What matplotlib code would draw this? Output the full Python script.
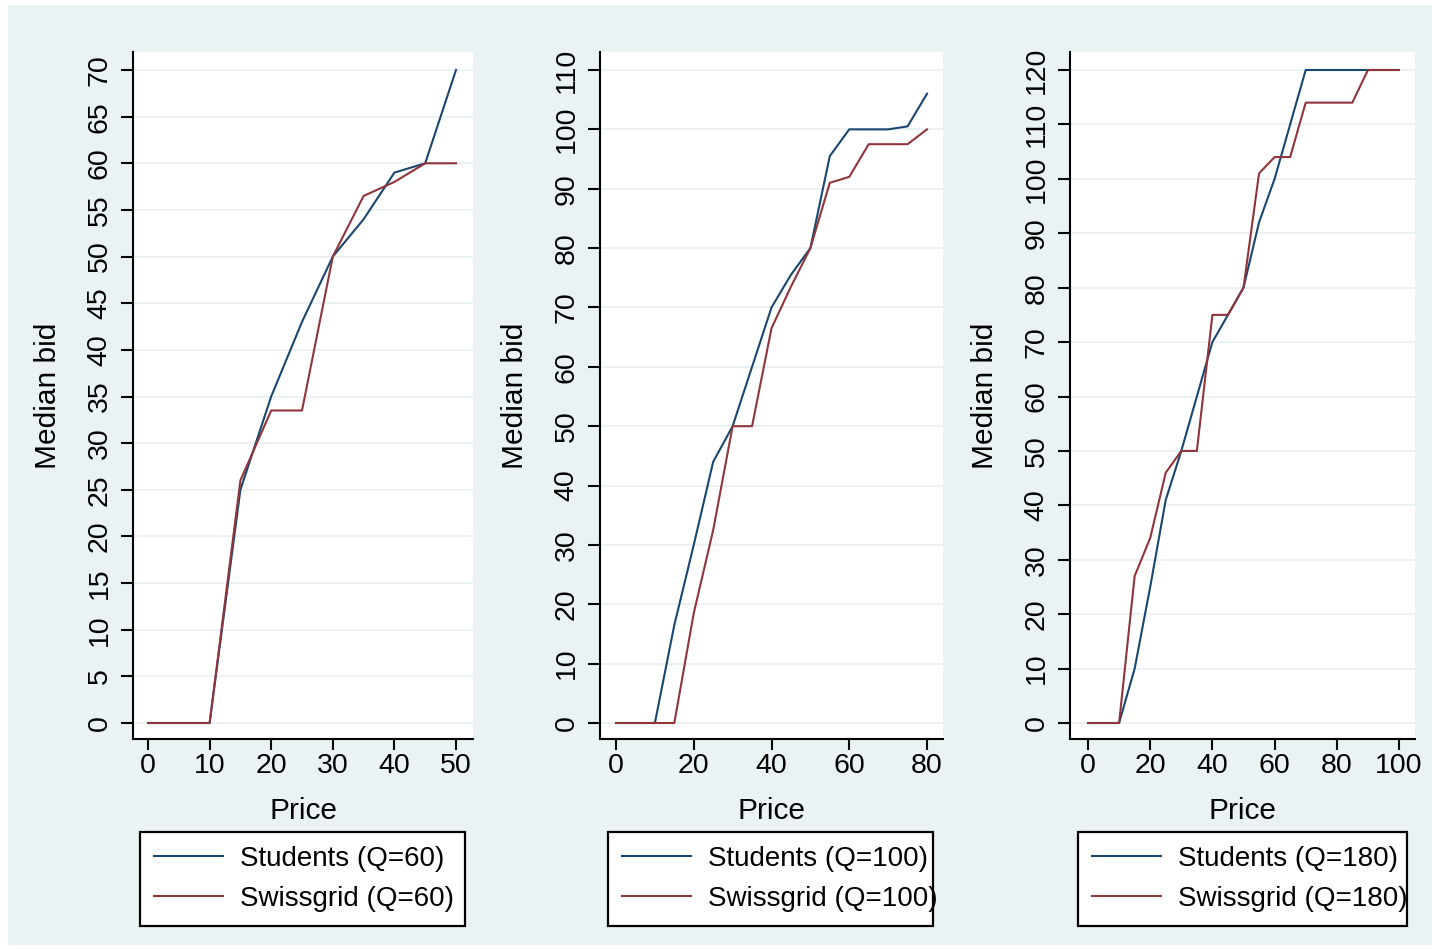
import matplotlib
matplotlib.use("Agg")
import matplotlib.pyplot as plt
from matplotlib.patches import Rectangle

plt.rcParams['font.family'] = ['Liberation Sans', 'DejaVu Sans']

# data
price60 = [0, 5, 10, 15, 20, 25, 30, 35, 40, 45, 50]
students60 = [0, 0, 0, 25, 35, 43, 50, 54, 59, 60, 70]
swiss60 = [0, 0, 0, 26, 33.5, 33.5, 50, 56.5, 58, 60, 60]

price100 = [0, 5, 10, 15, 20, 25, 30, 35, 40, 45, 50, 55, 60, 65, 70, 75, 80]
students100 = [0, 0, 0, 16.5, 30, 44, 50, 60, 70, 75.5, 80, 95.5, 100, 100, 100, 100.5, 106]
swiss100 = [0, 0, 0, 0, 18.5, 32.5, 50, 50, 66.5, 73.5, 80, 91, 92, 97.5, 97.5, 97.5, 100]

price180 = [0, 5, 10, 15, 20, 25, 30, 35, 40, 45, 50, 55, 60, 65, 70, 75, 80, 85, 90, 95, 100]
students180 = [0, 0, 0, 10, 25, 41, 50, 60, 70, 75, 80, 92, 100, 110, 120, 120, 120, 120, 120, 120, 120]
swiss180 = [0, 0, 0, 27, 34, 46, 50, 50, 75, 75, 80, 101, 104, 104, 114, 114, 114, 114, 120, 120, 120]

panels = [
    (price60, students60, swiss60, 'Q=60', range(0, 51, 10), range(0, 71, 5)),
    (price100, students100, swiss100, 'Q=100', range(0, 81, 20), range(0, 111, 10)),
    (price180, students180, swiss180, 'Q=180', range(0, 101, 20), range(0, 121, 10)),
]

W, H = 1432, 950
bg = '#eaf2f3'
navy = '#1a476f'
maroon = '#90353b'

fig = plt.figure(figsize=(W / 100, H / 100), dpi=100, facecolor='white')
fig.patches.append(Rectangle((8 / W, 5 / H), (W - 8) / W, (940) / H,
                             transform=fig.transFigure, facecolor=bg,
                             edgecolor='none', zorder=-10))

# axes boxes in pixels: left, right, x pixel of 0 and of xmax
boxes = [(133, 473, 148, 456), (600, 943, 616, 927), (1070, 1415, 1088, 1399)]
legend_box = [(140, 325), (608, 325), (1078, 329)]
top_px, bot_px, y0_px, ytop_px = 52, 739, 723, 70

for (px, stu, swi, q, xt, yt), (l, r, x0p, x1p), (ll, lw) in zip(panels, boxes, legend_box):
    ax = fig.add_axes([l / W, 1 - bot_px / H, (r - l) / W, (bot_px - top_px) / H])
    ax.set_facecolor('white')
    xmax = max(xt)
    ymax = max(yt)
    xs = xmax / (x1p - x0p)
    ys = ymax / (y0_px - ytop_px)
    ax.set_xlim(-(x0p - l) * xs, xmax + (r - x1p) * xs)
    ax.set_ylim(-(bot_px - y0_px) * ys, ymax + (ytop_px - top_px) * ys)

    ax.plot(px, stu, color=navy, lw=1.5, label='Students (%s)' % q)
    ax.plot(px, swi, color=maroon, lw=1.5, label='Swissgrid (%s)' % q)

    ax.set_xticks(list(xt))
    ax.set_yticks(list(yt))
    ax.grid(axis='y', color=bg, lw=1.5)
    ax.grid(axis='x', visible=False)
    ax.set_axisbelow(True)
    for s in ['top', 'right']:
        ax.spines[s].set_visible(False)
    for s in ['left', 'bottom']:
        ax.spines[s].set_linewidth(1.5)
    ax.tick_params(axis='both', direction='out', width=1.5, labelsize=20.5)
    ax.tick_params(axis='y', length=9, pad=5.5, labelrotation=90)
    ax.tick_params(axis='x', length=8, pad=2)
    for lab in ax.get_yticklabels():
        lab.set_va('center')

    ax.set_xlabel('Price', fontsize=21.5)
    ax.set_ylabel('Median bid', fontsize=21.5)
    ax.xaxis.set_label_coords(((l + r) / 2) / W, 1 - 797 / H, transform=fig.transFigure)
    ax.yaxis.set_label_coords((l - 71) / W, 1 - ((top_px + bot_px) / 2) / H,
                              transform=fig.transFigure)

    leg = ax.legend(loc='upper left', bbox_to_anchor=(ll / W, 1 - 832 / H, lw / W, 0),
                    bbox_transform=fig.transFigure, mode='expand', fontsize=20,
                    frameon=True, fancybox=False, edgecolor='black', framealpha=1,
                    handlelength=2.5, handletextpad=0.6, labelspacing=0.5,
                    borderpad=0.5, borderaxespad=0)
    leg.get_frame().set_linewidth(1.6)
    for h in leg.get_lines():
        h.set_linewidth(1.5)

fig.savefig('out.png', dpi=100, facecolor='white')
